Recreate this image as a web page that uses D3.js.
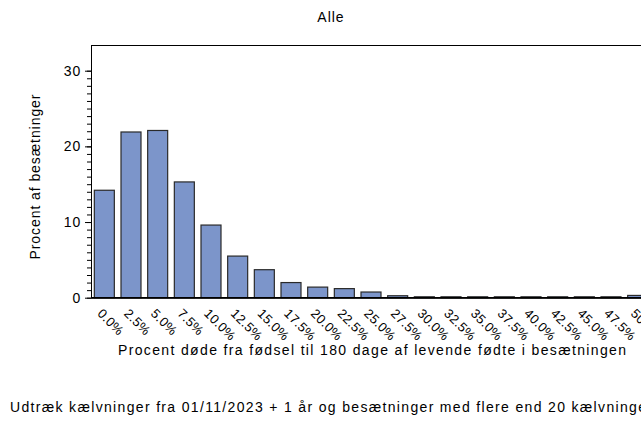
<!DOCTYPE html>
<html>
<head>
<meta charset="utf-8">
<script src="https://cdn.jsdelivr.net/npm/d3@7"></script>
<style>
  html, body { margin: 0; padding: 0; background: #fff; }
  svg { display: block; }
  text { font-family: "Liberation Sans", Arial, Helvetica, sans-serif; fill: #000; }
</style>
</head>
<body>
<svg id="chart" width="641" height="426"></svg>
<script>
const categories = ["0.0%","2.5%","5.0%","7.5%","10.0%","12.5%","15.0%","17.5%","20.0%","22.5%","25.0%","27.5%","30.0%","32.5%","35.0%","37.5%","40.0%","42.5%","45.0%","47.5%","50.0%"];
const values = [14.2, 21.9, 22.1, 15.3, 9.6, 5.5, 3.7, 2.0, 1.4, 1.2, 0.75, 0.26, 0.12, 0.12, 0.12, 0.12, 0.12, 0.12, 0.12, 0.12, 0.3];
const yTicks = [0, 10, 20, 30];
const yMinorTicks = d3.range(0, 31, 1);
const chartTitle = "Alle";
const yTitle = "Procent af besætninger";
const xTitle = "Procent døde fra fødsel til 180 dage af levende fødte i besætningen";
const footnote = "Udtræk kælvninger fra 01/11/2023 + 1 år og besætninger med flere end 20 kælvninger";

const svg = d3.select("#chart");
const pLeft = 91, pRight = 653, pTop = 45, pBottom = 297.7;

const x = d3.scaleBand().domain(categories).range([pLeft, 651]).paddingInner(0.25).paddingOuter(0.125);
const y = d3.scaleLinear().domain([0, 30]).range([pBottom, 70.7]);

// frame
svg.append("rect")
  .attr("x", pLeft + 0.5).attr("y", pTop + 0.5)
  .attr("width", pRight - pLeft).attr("height", pBottom - pTop)
  .attr("fill", "none").attr("stroke", "#000").attr("stroke-width", 1);

// bars
svg.append("g").selectAll("rect")
  .data(categories.map((c, i) => ({c, v: values[i]})))
  .join("rect")
  .attr("x", d => x(d.c))
  .attr("width", x.bandwidth())
  .attr("y", d => y(d.v))
  .attr("height", d => y(0) - y(d.v))
  .attr("fill", "#7C95CA")
  .attr("stroke", "#2a2a2a")
  .attr("stroke-width", 1.2);

// baseline
svg.append("line")
  .attr("x1", pLeft).attr("x2", pRight)
  .attr("y1", pBottom).attr("y2", pBottom)
  .attr("stroke", "#000").attr("stroke-width", 1.5);

// y axis minor ticks
const yMinor = svg.append("g").attr("transform", `translate(${pLeft},0)`)
  .call(d3.axisLeft(y).tickValues(yMinorTicks).tickSize(4).tickFormat(""));
yMinor.select(".domain").remove();
yMinor.selectAll("line").attr("stroke", "#000");

// y axis major
const yAxis = svg.append("g").attr("transform", `translate(${pLeft},0)`)
  .call(d3.axisLeft(y).tickValues(yTicks).tickSize(6).tickPadding(4));
yAxis.select(".domain").remove();
yAxis.selectAll("line").attr("stroke", "#000");
yAxis.selectAll("text")
  .style("font-family", "'Liberation Sans', Arial, sans-serif")
  .attr("font-size", 14).attr("letter-spacing", 0.8).attr("fill", "#111");

// x axis labels
const xAxis = svg.append("g").attr("transform", `translate(0,${pBottom})`)
  .call(d3.axisBottom(x).tickSize(0));
xAxis.select(".domain").remove();
xAxis.selectAll("text")
  .style("font-family", "'Liberation Sans', Arial, sans-serif")
  .attr("font-size", 13)
  .attr("letter-spacing", 0.3)
  .attr("fill", "#111")
  .attr("text-anchor", "start")
  .attr("x", 0).attr("y", 0).attr("dy", "0.72em")
  .attr("transform", "translate(-1,10) rotate(45)");

// titles
svg.append("text").attr("x", 331).attr("y", 22)
  .attr("text-anchor", "middle").attr("font-size", 14).attr("letter-spacing", 1)
  .text(chartTitle);

svg.append("text")
  .attr("transform", "translate(40,177) rotate(-90)")
  .attr("text-anchor", "middle").attr("font-size", 14)
  .attr("textLength", 165).attr("lengthAdjust", "spacing")
  .text(yTitle);

svg.append("text").attr("x", 372).attr("y", 355)
  .attr("text-anchor", "middle").attr("font-size", 14)
  .attr("textLength", 508).attr("lengthAdjust", "spacing")
  .text(xTitle);

svg.append("text").attr("x", 10).attr("y", 412)
  .attr("text-anchor", "start").attr("font-size", 14)
  .attr("textLength", 642).attr("lengthAdjust", "spacing")
  .text(footnote);
</script>
</body>
</html>
